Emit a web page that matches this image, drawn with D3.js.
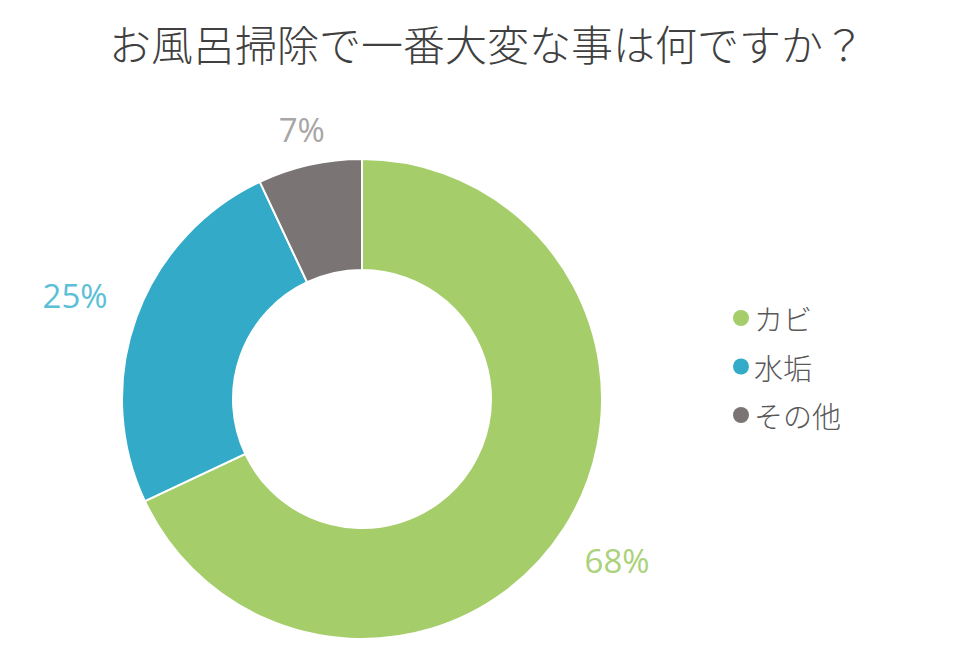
<!DOCTYPE html>
<html><head><meta charset="utf-8">
<script src="https://cdn.jsdelivr.net/npm/d3@7"></script>
<style>
html,body{margin:0;padding:0;background:#fff;}
</style></head>
<body>
<svg id="chart" width="960" height="650"></svg>
<script>
const title = "お風呂掃除で一番大変な事は何ですか？";
const categories = ["カビ", "水垢", "その他"];
const values = [68, 25, 7];
const sliceColors = ["#a5cd69", "#33abc8", "#7b7475"];
const labelColors = ["#a9d27a", "#5bbfd8", "#a8a6a6"];
const labelTexts = ["68%", "25%", "7%"];

const W = 960, H = 650;
const cx = 362, cy = 399, rOuter = 240, rInner = 129;
const svg = d3.select("#chart");

svg.append("text")
  .attr("x", 487).attr("y", 61)
  .attr("text-anchor", "middle")
  .attr("font-family", "'Noto Sans CJK JP', sans-serif")
  .attr("font-weight", 300)
  .attr("font-size", 42)
  .attr("fill", "#404040")
  .text(title);

const data = categories.map((c, i) => ({cat: c, value: values[i], color: sliceColors[i], lc: labelColors[i], lt: labelTexts[i]}));
const pie = d3.pie().value(d => d.value).sort(null);
const arcs = pie(data);
const arc = d3.arc().innerRadius(rInner).outerRadius(rOuter);

const g = svg.append("g").attr("transform", `translate(${cx},${cy})`);
g.selectAll("path").data(arcs).join("path")
  .attr("d", arc)
  .attr("fill", d => d.data.color)
  .attr("stroke", "#fff")
  .attr("stroke-width", 2);

const labelFont = 33;
const R = 263;
g.selectAll("text.lbl").data(arcs).join("text")
  .attr("class", "lbl")
  .attr("font-family", "'Open Sans', sans-serif")
  .attr("font-size", labelFont)
  .attr("fill", d => d.data.lc)
  .attr("text-anchor", "middle")
  .attr("dominant-baseline", "central")
  .text(d => d.data.lt)
  .each(function(d) {
    const a = (d.startAngle + d.endAngle) / 2;
    const dx = Math.sin(a), dy = -Math.cos(a);
    const bb = this.getBBox();
    const hw = bb.width / 2 * 1.3, hh = 6.5;
    const ext = Math.abs(dx) * hw + Math.abs(dy) * hh;
    const r = R + ext;
    d3.select(this).attr("x", dx * r).attr("y", dy * r);
  });

const legend = svg.append("g").attr("transform", "translate(741,318)");
const step = 48.5;
const items = legend.selectAll("g").data(data).join("g")
  .attr("transform", (d, i) => `translate(0,${i * step})`);
items.append("circle").attr("r", 8).attr("fill", d => d.color);
items.append("text")
  .attr("x", 13).attr("y", 0)
  .attr("dominant-baseline", "central")
  .attr("font-family", "'Noto Sans CJK JP', sans-serif")
  .attr("font-weight", 300)
  .attr("font-size", 29)
  .attr("fill", "#595959")
  .text(d => d.cat);
</script>
</body></html>
